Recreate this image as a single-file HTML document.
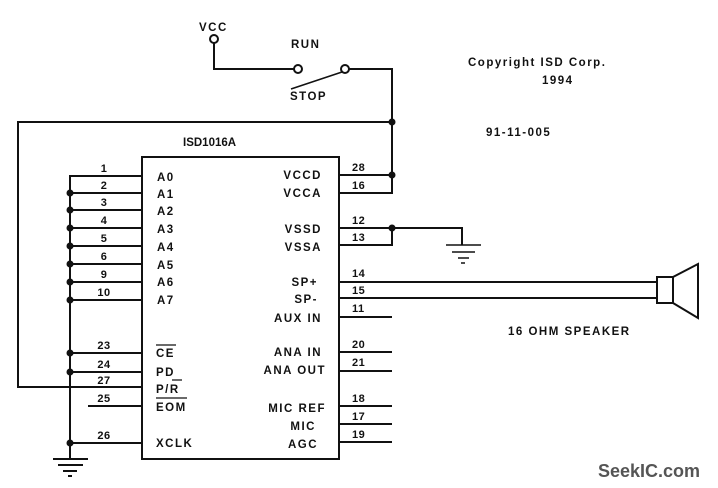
<!DOCTYPE html>
<html><head><meta charset="utf-8"><style>
html,body{margin:0;padding:0;background:#fff;}
svg{display:block;}
text{font-family:"Liberation Sans",sans-serif;font-weight:bold;font-size:11.5px;fill:#111;letter-spacing:1.5px;}
.n{font-size:11px;letter-spacing:0.5px;}
</style></head><body>
<svg width="718" height="488" viewBox="0 0 718 488" xmlns="http://www.w3.org/2000/svg">
<g stroke="#111" stroke-width="2" fill="none">
<!-- IC box -->
<rect x="142" y="157" width="197" height="302"/>
<!-- left bus -->
<line x1="70" y1="175" x2="70" y2="459"/>
<path d="M70 176H142 M70 193H142 M70 210H142 M70 228H142 M70 246H142 M70 264H142 M70 282H142 M70 300H142 M70 353H142 M70 372H142 M88 406H142 M70 443H142"/>
<!-- P/R loop -->
<path d="M142 387H18V122H392"/>
<!-- ground left -->
<path d="M53 459H88 M58 465H83 M63 471H77 M68 476H72"/>
<!-- VCC / switch -->
<path d="M214 43V69H294"/>
<circle cx="214" cy="39" r="4" fill="#fff"/>
<circle cx="298" cy="69" r="4" fill="#fff"/>
<circle cx="345" cy="69" r="4" fill="#fff"/>
<path d="M349 69H392V193H339 M339 175H392"/>
<line x1="291" y1="89" x2="342" y2="72" stroke-width="1.5"/>
<!-- VSS -->
<path d="M339 228H462V245 M339 245H392V228"/>
<path d="M446 245H481 M452 252H475 M458 258H469 M461 263H465" stroke-width="1.5"/>
<!-- speaker -->
<path d="M339 282H657 M339 298H657"/>
<rect x="657" y="277" width="16" height="26"/>
<path d="M673 277L698 264V318L673 303"/>
<!-- right pins -->
<path d="M339 317H392 M339 352H392 M339 371H392 M339 406H392 M339 424H392 M339 442H392"/>
<!-- overlines -->
<path d="M156 345H176 M172 380H182 M156 398H187" stroke-width="1.2"/>
</g>
<g fill="#111">
<circle cx="392" cy="122" r="3.5"/><circle cx="392" cy="175" r="3.5"/><circle cx="392" cy="228" r="3.5"/>
<circle cx="70" cy="193" r="3.5"/><circle cx="70" cy="210" r="3.5"/><circle cx="70" cy="228" r="3.5"/><circle cx="70" cy="246" r="3.5"/><circle cx="70" cy="264" r="3.5"/><circle cx="70" cy="282" r="3.5"/><circle cx="70" cy="300" r="3.5"/><circle cx="70" cy="353" r="3.5"/><circle cx="70" cy="372" r="3.5"/><circle cx="70" cy="443" r="3.5"/>
</g>
<text x="199" y="31">VCC</text>
<text x="291" y="48">RUN</text>
<text x="290" y="100">STOP</text>
<text x="468" y="66">Copyright ISD Corp.</text>
<text x="542" y="84">1994</text>
<text x="486" y="136">91-11-005</text>
<text x="183" y="146" style="letter-spacing:0">ISD1016A</text>
<text x="508" y="335">16 OHM SPEAKER</text>
<!-- left pin numbers -->
<g class="n" text-anchor="middle">
<text class="n" x="104" y="172">1</text><text class="n" x="104" y="189">2</text><text class="n" x="104" y="206">3</text><text class="n" x="104" y="224">4</text><text class="n" x="104" y="242">5</text><text class="n" x="104" y="260">6</text><text class="n" x="104" y="278">9</text><text class="n" x="104" y="296">10</text><text class="n" x="104" y="349">23</text><text class="n" x="104" y="368">24</text><text class="n" x="104" y="384">27</text><text class="n" x="104" y="402">25</text><text class="n" x="104" y="439">26</text>
</g>
<!-- left labels -->
<text x="157" y="181">A0</text><text x="157" y="198">A1</text><text x="157" y="215">A2</text><text x="157" y="233">A3</text><text x="157" y="251">A4</text><text x="157" y="269">A5</text><text x="157" y="286">A6</text><text x="157" y="304">A7</text>
<text x="156" y="357">CE</text><text x="156" y="376">PD</text><text x="156" y="393">P/R</text><text x="156" y="411">EOM</text><text x="156" y="447">XCLK</text>
<!-- right labels -->
<g text-anchor="end">
<text x="322" y="179">VCCD</text><text x="322" y="197">VCCA</text><text x="322" y="233">VSSD</text><text x="322" y="251">VSSA</text><text x="318" y="286">SP+</text><text x="318" y="303">SP-</text><text x="322" y="322">AUX IN</text><text x="322" y="356">ANA IN</text><text x="326" y="374">ANA OUT</text><text x="326" y="412">MIC REF</text><text x="316" y="430">MIC</text><text x="318" y="448">AGC</text>
</g>
<!-- right pin numbers -->
<text class="n" x="352" y="171">28</text><text class="n" x="352" y="189">16</text><text class="n" x="352" y="224">12</text><text class="n" x="352" y="241">13</text><text class="n" x="352" y="277">14</text><text class="n" x="352" y="294">15</text><text class="n" x="352" y="312">11</text><text class="n" x="352" y="348">20</text><text class="n" x="352" y="366">21</text><text class="n" x="352" y="402">18</text><text class="n" x="352" y="420">17</text><text class="n" x="352" y="438">19</text>
<text x="598" y="477" style="font-size:18px;fill:#555;letter-spacing:0">SeekIC.com</text>
</svg>
</body></html>
